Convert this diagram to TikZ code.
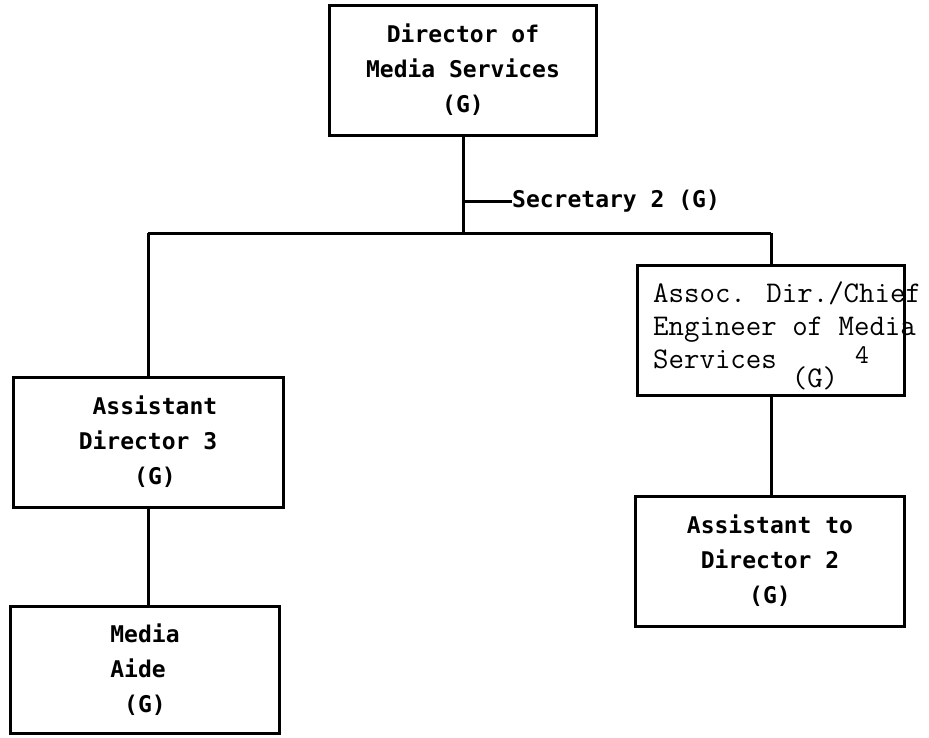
\documentclass[tikz,border=0pt]{standalone}
\usepackage{fontspec}
\usetikzlibrary{positioning}
\newfontfamily\boxfont{DejaVu Sans Mono}[BoldFont={DejaVu Sans Mono Bold}]

\tikzset{
  post/.style={draw, line width=3pt, minimum width=267pt, minimum height=130pt,
    inner sep=0pt, font=\boxfont\bfseries\fontsize{23}{35}\selectfont},
  link/.style={line width=3pt}
}

\begin{document}
\begin{tikzpicture}[x=1pt,y=-1pt]
  \useasboundingbox (0,0) rectangle (929,737);
  \node[post, align=center] (dir) at (463,70) {Director of\\Media Services\\(G)};
  \node[post, minimum width=270pt, align=left] (ad) at (148,442)
    {\phantom{x}Assistant\\Director 3\\\phantom{xxxx}(G)};
  \node[post, minimum width=269pt, minimum height=127pt, align=left] (aide) at (145,670)
    {Media\\Aide\\\phantom{x}(G)};
  \node[post] (assoc) at (771,330) {};
  \node[post, minimum width=269pt, align=center] (asst) at (770,561)
    {Assistant to\\Director 2\\(G)};
  % associate director text, set on the typewriter face
  \node[anchor=north west, inner sep=0pt, align=left,
    font=\ttfamily\fontsize{30}{33}\selectfont] (assoctxt) at (653,281)
    {Assoc. Dir./Chief\\Engineer of Media\\Services};
  \node[font=\ttfamily\fontsize{30}{33}\selectfont, inner sep=0pt] (assocg) at (815,378) {(G)};
  \node[font=\ttfamily\fontsize{27}{30}\selectfont, inner sep=0pt] (assocn) at (862,355) {4};
  \node[anchor=west, inner sep=0pt, font=\boxfont\bfseries\fontsize{23}{28}\selectfont]
    (sec) at (512,201) {Secretary 2 (G)};

  \coordinate (busL) at (148,233);
  \coordinate (busR) at (771,233);
  \draw[link] (dir.south) -- (dir.south |- busL);
  \draw[link] (sec.west) -- (sec.west -| dir.south);
  \draw[link] (busL) -- (busR);
  \draw[link] (busL) -- (ad.north);
  \draw[link] (busR) -- (assoc.north);
  \draw[link] (ad.south) -- (ad.south |- aide.north);
  \draw[link] (assoc.south) -- (assoc.south |- asst.north);
\end{tikzpicture}
\end{document}
